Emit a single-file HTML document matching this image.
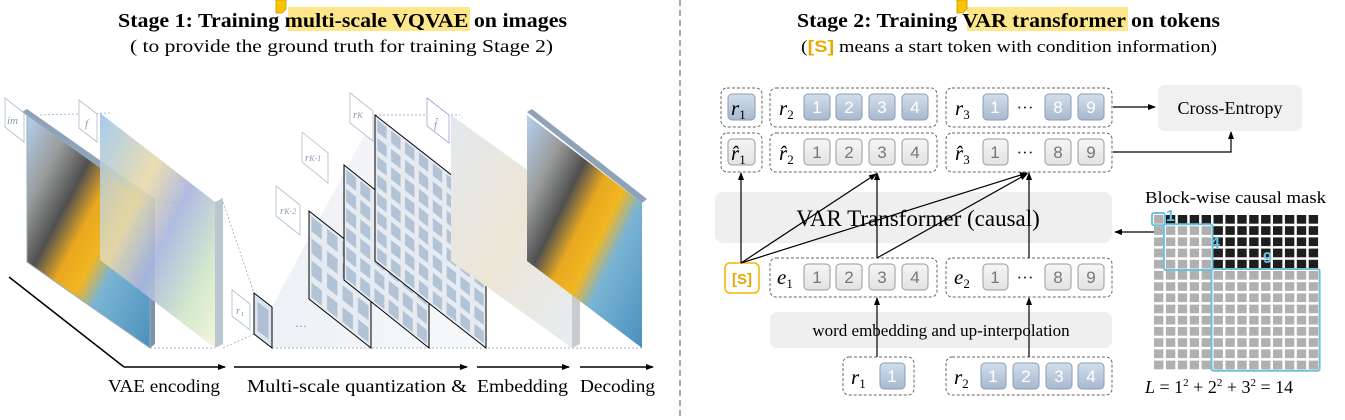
<!DOCTYPE html>
<html><head><meta charset="utf-8"><style>
html,body{margin:0;padding:0;background:#fff;}
svg{display:block;font-family:"Liberation Serif",serif;}
</style></head><body>
<svg width="1345" height="420" viewBox="0 0 1345 420" xmlns="http://www.w3.org/2000/svg">
<defs>
<marker id="ah" markerWidth="8" markerHeight="8" refX="7" refY="4" orient="auto" markerUnits="userSpaceOnUse"><path d="M0,1 L8,4 L0,7 z" fill="#000"/></marker>
<linearGradient id="tokB" x1="0" y1="0" x2="0" y2="1"><stop offset="0" stop-color="#d3deea"/><stop offset="1" stop-color="#a6b9cf"/></linearGradient>
<linearGradient id="tokG" x1="0" y1="0" x2="0" y2="1"><stop offset="0" stop-color="#f6f6f6"/><stop offset="1" stop-color="#e2e2e2"/></linearGradient>
<linearGradient id="fgrad" x1="0" y1="0" x2="1" y2="1"><stop offset="0" stop-color="#9cc6ee"/><stop offset="0.35" stop-color="#e8d9a8"/><stop offset="0.55" stop-color="#a8b4de"/><stop offset="0.8" stop-color="#cfe6c8"/><stop offset="1" stop-color="#f2f4d8"/></linearGradient>
<linearGradient id="fhat" x1="0" y1="0" x2="1" y2="1"><stop offset="0" stop-color="#e4e8ee"/><stop offset="0.5" stop-color="#ece6d6"/><stop offset="1" stop-color="#e6ecf2"/></linearGradient>
<linearGradient id="par" x1="0" y1="0" x2="1" y2="1"><stop offset="0" stop-color="#b4d0ee"/><stop offset="0.2" stop-color="#9a9c9c"/><stop offset="0.35" stop-color="#505050"/><stop offset="0.47" stop-color="#e9a820"/><stop offset="0.58" stop-color="#f1b622"/><stop offset="0.68" stop-color="#7ab4d4"/><stop offset="1" stop-color="#4a90bc"/></linearGradient>
<linearGradient id="cone" x1="0" y1="0" x2="1" y2="0"><stop offset="0" stop-color="#eef1f5"/><stop offset="1" stop-color="#f7f8fa"/></linearGradient>
</defs>

<rect x="288" y="7" width="182" height="24" fill="#fde78a"/>
<path d="M276,0 h10 v9 l-4,4 h-6 z" fill="#fbc400" stroke="#c89400" stroke-width="0.8"/>
<text x="118" y="27" font-size="20" font-weight="bold" textLength="449" lengthAdjust="spacingAndGlyphs">Stage 1:  Training multi-scale VQVAE on images</text>
<text x="130" y="52" font-size="18" textLength="423" lengthAdjust="spacingAndGlyphs">( to provide the ground truth for training Stage 2)</text>

<rect x="967" y="7" width="161" height="24" fill="#fde78a"/>
<path d="M957,0 h10 v9 l-4,4 h-6 z" fill="#fbc400" stroke="#c89400" stroke-width="0.8"/>
<text x="797" y="27" font-size="20" font-weight="bold" textLength="423" lengthAdjust="spacingAndGlyphs">Stage 2:  Training VAR transformer on tokens</text>
<text x="801" y="52" font-size="17" textLength="416" lengthAdjust="spacingAndGlyphs">(<tspan fill="#e8a800" font-weight="bold" font-family="Liberation Sans,sans-serif">[S]</tspan> means a start token with condition information)</text>

<line x1="680" y1="0" x2="680" y2="420" stroke="#555" stroke-width="1" stroke-dasharray="6,4"/>

<path d="M9,277 L124,367" stroke="#000" stroke-width="1.5"/>
<polygon points="272,307 375,115 486,202 486,348 272,348" fill="url(#cone)"/>
<g stroke="#8aa0bc" stroke-width="0.7" stroke-dasharray="2,2" fill="none">
<line x1="40" y1="115" x2="110" y2="113"/><line x1="150" y1="348" x2="215" y2="348"/>
<line x1="150" y1="203" x2="215" y2="202"/>
<line x1="223" y1="348" x2="254" y2="334"/><line x1="223" y1="202" x2="254" y2="293"/>
<line x1="272" y1="348" x2="642" y2="348"/>
<line x1="486" y1="202" x2="572" y2="202"/><line x1="375" y1="115" x2="460" y2="115"/>
<line x1="572" y1="202" x2="642" y2="202"/>
</g>
<polygon points="22,112 27,109 155,199 150,203" fill="#8ea3ba"/>
<polygon points="150,203 155,199 155,344 150,348" fill="#7d93ab"/>
<polygon points="27,115 150,203 150,348 27,262" fill="url(#par)"/>
<polygon points="27,115 150,203 150,348 27,262" fill="none" stroke="#9ab" stroke-width="1"/>
<polygon points="215,202 223,198 223,344 215,348" fill="#b8c6cf"/>
<polygon points="100,113 215,202 215,348 100,260" fill="url(#fgrad)" opacity="0.9"/>
<g transform="matrix(18,14,0,41,254,293)"><rect width="1" height="1" fill="#dbe3ec" stroke="#000" stroke-width="1" vector-effect="non-scaling-stroke"/><rect x="0.2" y="0.15" width="0.6" height="0.7" fill="#aebfd3"/></g>
<text x="295" y="330" font-size="12" fill="#7a8ca8">···</text>
<defs>
<pattern id="p4" width="0.25" height="0.25" patternUnits="userSpaceOnUse"><rect x="0.04" y="0.04" width="0.17" height="0.17" fill="#b3c3d6"/></pattern>
<pattern id="p6" width="0.1667" height="0.1667" patternUnits="userSpaceOnUse"><rect x="0.025" y="0.025" width="0.117" height="0.117" fill="#b3c3d6"/></pattern>
<pattern id="p8" width="0.125" height="0.125" patternUnits="userSpaceOnUse"><rect x="0.02" y="0.02" width="0.085" height="0.085" fill="#b3c3d6"/></pattern>
</defs>
<g transform="matrix(62,49,0,88,309,211)">
<rect width="1" height="1" fill="#e6ebf1" stroke="#000" stroke-width="1" vector-effect="non-scaling-stroke"/>
<rect width="1" height="1" fill="url(#p4)"/></g>
<g transform="matrix(85,68,0,115,344,165)">
<rect width="1" height="1" fill="#e6ebf1" stroke="#000" stroke-width="1" vector-effect="non-scaling-stroke"/>
<rect width="1" height="1" fill="url(#p6)"/></g>
<g transform="matrix(111,87,0,146,375,115)">
<rect width="1" height="1" fill="#e6ebf1" stroke="#000" stroke-width="1" vector-effect="non-scaling-stroke"/>
<rect width="1" height="1" fill="url(#p8)"/></g>
<polygon points="572,202 580,198 580,344 572,348" fill="#c8ccd0"/>
<polygon points="451,115 572,202 572,348 451,261" fill="url(#fhat)"/>
<polygon points="527,112 532,109 647,199 642,203" fill="#8ea3ba"/>
<polygon points="527,115 642,203 642,348 527,261" fill="url(#par)"/>
<g fill="#fff" stroke="#b0bccc" stroke-width="0.8">
<polygon points="5,98 24,113 24,142 5,127"/><polygon points="79,100 97,114 97,142 79,128"/>
<polygon points="232,290 250,304 250,330 232,316"/><polygon points="276,186 300,205 300,235 276,216"/>
<polygon points="302,132 328,153 328,183 302,162"/><polygon points="350,93 373,111 373,141 350,123"/>
<polygon points="427,98 449,115 449,143 427,126" stroke="#a99bd8"/>
</g>
<g font-size="11" font-style="italic" fill="#8899b0">
<text x="7" y="124">im</text><text x="85" y="127">f</text><text x="236" y="314">r₁</text>
<text x="280" y="214">r<tspan font-size="8">K-2</tspan></text><text x="305" y="161">r<tspan font-size="8">K-1</tspan></text><text x="353" y="118">r<tspan font-size="8">K</tspan></text>
<text x="434" y="128" fill="#9a8cd0">f̂</text>
</g>
<g stroke="#000" stroke-width="1.5" marker-end="url(#ah)">
<line x1="124" y1="367" x2="225" y2="367"/><line x1="234" y1="367" x2="467" y2="367"/>
<line x1="477" y1="367" x2="569" y2="367"/><line x1="580" y1="367" x2="653" y2="367"/>
</g>
<g font-size="18">
<text x="108" y="392" textLength="112" lengthAdjust="spacingAndGlyphs">VAE encoding</text>
<text x="247" y="392" textLength="220" lengthAdjust="spacingAndGlyphs">Multi-scale quantization  &amp;</text>
<text x="477" y="392" textLength="91" lengthAdjust="spacingAndGlyphs">Embedding</text>
<text x="580" y="392" textLength="75" lengthAdjust="spacingAndGlyphs">Decoding</text>
</g>

<g fill="none" stroke="#666" stroke-width="1" stroke-dasharray="3,2">
<rect x="721" y="88" width="41" height="39" rx="6"/><rect x="770" y="88" width="167" height="39" rx="6"/><rect x="946" y="88" width="166" height="39" rx="6"/>
<rect x="721" y="133" width="41" height="39" rx="6"/><rect x="770" y="133" width="167" height="39" rx="6"/><rect x="946" y="133" width="166" height="39" rx="6"/>
<rect x="770" y="258" width="167" height="39" rx="6"/><rect x="946" y="258" width="166" height="39" rx="6"/>
<rect x="843" y="357" width="71" height="38" rx="6"/><rect x="946" y="357" width="166" height="38" rx="6"/>
</g>
<rect x="1158" y="85" width="144" height="46" rx="7" fill="#f0f0f0"/>
<text x="1230" y="114" font-size="18" text-anchor="middle">Cross-Entropy</text>
<rect x="715" y="192" width="397" height="51" rx="8" fill="#efefef"/>
<rect x="770" y="312" width="342" height="36" rx="7" fill="#efefef"/>
<text x="918" y="226" font-size="23" text-anchor="middle">VAR Transformer (causal)</text>
<text x="941" y="336" font-size="17" text-anchor="middle">word embedding and up-interpolation</text>
<rect x="725" y="263" width="34" height="30" rx="5" fill="#fff" stroke="#f2b600" stroke-width="1.5"/>
<text x="742" y="284" font-size="15" fill="#e8a800" font-weight="bold" text-anchor="middle" font-family="Liberation Sans,sans-serif">[S]</text>

<g fill="url(#tokB)" stroke="#8a9db5" stroke-width="1">
<rect x="728" y="94" width="27" height="26" rx="4"/>
<rect x="804" y="94" width="26" height="26" rx="4"/><rect x="836" y="94" width="26" height="26" rx="4"/><rect x="869" y="94" width="26" height="26" rx="4"/><rect x="902" y="94" width="26" height="26" rx="4"/>
<rect x="983" y="94" width="25" height="26" rx="4"/><rect x="1045" y="94" width="26" height="26" rx="4"/><rect x="1078" y="94" width="26" height="26" rx="4"/>
<rect x="880" y="363" width="25" height="26" rx="4"/>
<rect x="981" y="363" width="25" height="26" rx="4"/><rect x="1013" y="363" width="26" height="26" rx="4"/><rect x="1046" y="363" width="26" height="26" rx="4"/><rect x="1078" y="363" width="26" height="26" rx="4"/>
</g>
<g fill="url(#tokG)" stroke="#9a9a9a" stroke-width="1">
<rect x="728" y="139" width="27" height="26" rx="4"/>
<rect x="804" y="139" width="26" height="26" rx="4"/><rect x="836" y="139" width="26" height="26" rx="4"/><rect x="869" y="139" width="26" height="26" rx="4"/><rect x="902" y="139" width="26" height="26" rx="4"/>
<rect x="983" y="139" width="25" height="26" rx="4"/><rect x="1045" y="139" width="26" height="26" rx="4"/><rect x="1078" y="139" width="26" height="26" rx="4"/>
<rect x="804" y="264" width="26" height="26" rx="4"/><rect x="836" y="264" width="26" height="26" rx="4"/><rect x="869" y="264" width="26" height="26" rx="4"/><rect x="902" y="264" width="26" height="26" rx="4"/>
<rect x="983" y="264" width="25" height="26" rx="4"/><rect x="1045" y="264" width="26" height="26" rx="4"/><rect x="1078" y="264" width="26" height="26" rx="4"/>
</g>
<g font-size="17" text-anchor="middle" font-family="Liberation Sans,sans-serif">
<g fill="#fff">
<text x="817" y="113">1</text><text x="849" y="113">2</text><text x="882" y="113">3</text><text x="915" y="113">4</text>
<text x="995" y="113">1</text><text x="1058" y="113">8</text><text x="1091" y="113">9</text>
<text x="892" y="382">1</text>
<text x="993" y="382">1</text><text x="1026" y="382">2</text><text x="1059" y="382">3</text><text x="1091" y="382">4</text>
</g>
<g fill="#777">
<text x="817" y="158">1</text><text x="849" y="158">2</text><text x="882" y="158">3</text><text x="915" y="158">4</text>
<text x="995" y="158">1</text><text x="1058" y="158">8</text><text x="1091" y="158">9</text>
<text x="817" y="283">1</text><text x="849" y="283">2</text><text x="882" y="283">3</text><text x="915" y="283">4</text>
<text x="995" y="283">1</text><text x="1058" y="283">8</text><text x="1091" y="283">9</text>
</g>
<g fill="#222" font-family="Liberation Serif,serif"><text x="1025" y="113">···</text><text x="1025" y="158">···</text><text x="1025" y="283">···</text></g>
</g>
<g font-size="21" font-style="italic">
<text x="731" y="115">r<tspan font-size="13" font-style="normal" dy="4">1</tspan></text>
<text x="779" y="115">r<tspan font-size="13" font-style="normal" dy="4">2</tspan></text>
<text x="955" y="115">r<tspan font-size="13" font-style="normal" dy="4">3</tspan></text>
<text x="731" y="160">r̂<tspan font-size="13" font-style="normal" dy="4">1</tspan></text>
<text x="779" y="160">r̂<tspan font-size="13" font-style="normal" dy="4">2</tspan></text>
<text x="955" y="160">r̂<tspan font-size="13" font-style="normal" dy="4">3</tspan></text>
<text x="777" y="284">e<tspan font-size="13" font-style="normal" dy="4">1</tspan></text>
<text x="954" y="284">e<tspan font-size="13" font-style="normal" dy="4">2</tspan></text>
<text x="851" y="384">r<tspan font-size="13" font-style="normal" dy="4">1</tspan></text>
<text x="954" y="384">r<tspan font-size="13" font-style="normal" dy="4">2</tspan></text>
</g>
<g stroke="#000" stroke-width="1.2" fill="none" marker-end="url(#ah)">
<line x1="741" y1="263" x2="741" y2="173"/>
<line x1="877" y1="258" x2="877" y2="173"/>
<line x1="1029" y1="258" x2="1029" y2="173"/>
<line x1="741" y1="263" x2="876" y2="174"/>
<line x1="741" y1="263" x2="1027" y2="173"/>
<line x1="877" y1="258" x2="1027" y2="174"/>
<line x1="877" y1="357" x2="877" y2="298"/>
<line x1="1029" y1="357" x2="1029" y2="298"/>
<line x1="1113" y1="107" x2="1155" y2="107"/>
<polyline points="1113,152 1231,152 1231,132"/>
<line x1="1154" y1="232" x2="1115" y2="232"/>
</g>

<text x="1145" y="203" font-size="17" textLength="181" lengthAdjust="spacingAndGlyphs">Block-wise causal mask</text>
<g id="mask"></g>
<text x="1145" y="393" font-size="18"><tspan font-style="italic">L</tspan> = 1<tspan font-size="11" dy="-7">2</tspan><tspan dy="7"> + 2</tspan><tspan font-size="11" dy="-7">2</tspan><tspan dy="7"> + 3</tspan><tspan font-size="11" dy="-7">2</tspan><tspan dy="7"> = 14</tspan></text>
</svg>
<script>
(function(){
var g=document.getElementById('mask'),s='';
var x0=1153,y0=214,cw=11.9,ch=11.2;
for(var r=0;r<14;r++){var lim=r==0?0:(r<5?4:13);for(var c=0;c<14;c++){
s+='<rect x="'+(x0+c*cw+1).toFixed(1)+'" y="'+(y0+r*ch+1).toFixed(1)+'" width="'+(cw-2.5).toFixed(1)+'" height="'+(ch-2.5).toFixed(1)+'" fill="'+(c<=lim?'#b0b0b0':'#1e1e1e')+'"/>';}}
s+='<rect x="'+(x0-1)+'" y="'+(y0-1)+'" width="'+(cw+1)+'" height="'+(ch+1)+'" rx="2" fill="none" stroke="#6ec0dd" stroke-width="2"/>';
s+='<rect x="'+(x0+cw-1)+'" y="'+(y0+ch-1)+'" width="'+(4*cw+1)+'" height="'+(4*ch+1)+'" rx="2" fill="none" stroke="#6ec0dd" stroke-width="2"/>';
s+='<rect x="'+(x0+5*cw-1)+'" y="'+(y0+5*ch-1)+'" width="'+(9*cw+1)+'" height="'+(9*ch+1)+'" rx="2" fill="none" stroke="#6ec0dd" stroke-width="2"/>';
s+='<text x="1166" y="221" font-size="16" font-weight="bold" fill="#6ec0dd" font-family="Liberation Sans,sans-serif">1</text>';
s+='<text x="1211" y="248" font-size="16" font-weight="bold" fill="#6ec0dd" font-family="Liberation Sans,sans-serif">4</text>';
s+='<text x="1263" y="263" font-size="16" font-weight="bold" fill="#6ec0dd" font-family="Liberation Sans,sans-serif">9</text>';
g.innerHTML=s;
})();
</script>
</body></html>
